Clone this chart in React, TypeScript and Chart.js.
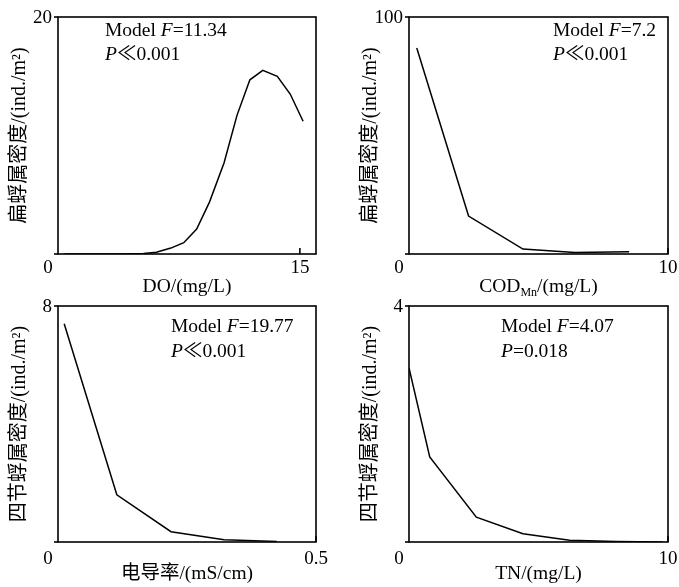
import React, { useEffect, useRef } from "react";
import { Chart, registerables } from "chart.js";

Chart.register(...registerables);

const SERIF = "'Liberation Serif', 'Times New Roman', 'Noto Sans CJK SC', serif";

// ---- Data ----
// Panel 1: 扁蜉属 vs DO
const doX = [0.4, 1.2, 2.0, 2.8, 3.7, 4.5, 5.3, 6.1, 7.0, 7.8, 8.6, 9.4, 10.3, 11.1, 11.9, 12.7, 13.6, 14.4, 15.2];
const doY = [0, 0, 0, 0, 0.01, 0.02, 0.05, 0.15, 0.5, 0.95, 2.1, 4.4, 7.7, 11.7, 14.7, 15.5, 15.0, 13.5, 11.2];
// Panel 2: 扁蜉属 vs COD_Mn
const codX = [0.3, 2.3, 4.4, 6.4, 8.5];
const codY = [86.9, 16.0, 2.1, 0.6, 0.9];
// Panel 3: 四节蜉属 vs 电导率
const ecX = [0.012, 0.114, 0.219, 0.322, 0.424];
const ecY = [7.4, 1.6, 0.35, 0.08, 0.02];
// Panel 4: 四节蜉属 vs TN
const tnX = [0, 0.8, 2.6, 4.4, 6.2, 8.0, 9.8];
const tnY = [2.95, 1.44, 0.42, 0.14, 0.03, 0.01, 0.0];

// axis ranges and tick labels
const xMaxes = [16, 10, 0.5, 10];
const yMaxes = [20, 100, 8, 4];
const xTickValues = [[15], [10], [0.5], [10]];
const yTickValues = [[20], [100], [8], [4]];

// texts
const fValues = ["11.34", "7.2", "19.77", "4.07"];
const pTexts = ["≪0.001", "≪0.001", "≪0.001", "=0.018"];
const yTitles = [
  "扁蜉属密度/(ind./m²)",
  "扁蜉属密度/(ind./m²)",
  "四节蜉属密度/(ind./m²)",
  "四节蜉属密度/(ind./m²)",
];
const xTitles = [
  [{ t: "DO/(mg/L)" }],
  [{ t: "COD" }, { t: "Mn", sub: true }, { t: "/(mg/L)" }],
  [{ t: "电导率/(mS/cm)" }],
  [{ t: "TN/(mg/L)" }],
];

// ---- Layout (pixels) ----
const layouts = [
  { left: 0, top: 0, w: 340, h: 310, pad: { left: 58, top: 17, right: 24, bottom: 56 }, tickDy: 14, titleDy: 33, annX: 47, annY1: 14, annY2: 38 },
  { left: 340, top: 0, w: 339, h: 310, pad: { left: 69, top: 17, right: 11, bottom: 56 }, tickDy: 14, titleDy: 33, annX: 144, annY1: 14, annY2: 38 },
  { left: 0, top: 293, w: 340, h: 294, pad: { left: 58, top: 13, right: 24, bottom: 45 }, tickDy: 17, titleDy: 32, annX: 113, annY1: 21, annY2: 46 },
  { left: 340, top: 293, w: 339, h: 294, pad: { left: 69, top: 13, right: 11, bottom: 45 }, tickDy: 17, titleDy: 32, annX: 92, annY1: 21, annY2: 46 },
];

const seriesX = [doX, codX, ecX, tnX];
const seriesY = [doY, codY, ecY, tnY];

function decoPlugin(i: number) {
  const L = layouts[i];
  return {
    id: "deco" + i,
    afterDraw(chart: any) {
      const ctx = chart.ctx as CanvasRenderingContext2D;
      const a = chart.chartArea;
      const xs = chart.scales.x;
      const ys = chart.scales.y;
      ctx.save();
      ctx.strokeStyle = "#000";
      ctx.lineWidth = 1.6;
      ctx.strokeRect(a.left, a.top, a.right - a.left, a.bottom - a.top);
      // y ticks (outward) at 0 and labelled values
      for (const v of [0, ...yTickValues[i]]) {
        const py = ys.getPixelForValue(v);
        ctx.beginPath();
        ctx.moveTo(a.left - 4, py);
        ctx.lineTo(a.left, py);
        ctx.stroke();
      }
      // x ticks (inward)
      for (const v of xTickValues[i]) {
        const px = xs.getPixelForValue(v);
        ctx.beginPath();
        ctx.moveTo(px, a.bottom);
        ctx.lineTo(px, a.bottom - 6);
        ctx.stroke();
      }
      ctx.fillStyle = "#000";
      ctx.font = `19px ${SERIF}`;
      ctx.textBaseline = "middle";
      ctx.textAlign = "right";
      for (const v of yTickValues[i]) {
        ctx.fillText(String(v), a.left - 6, ys.getPixelForValue(v) + 1);
      }
      ctx.textAlign = "center";
      ctx.fillText("0", a.left - 10, a.bottom + L.tickDy);
      for (const v of xTickValues[i]) {
        ctx.fillText(String(v), xs.getPixelForValue(v), a.bottom + L.tickDy);
      }
      // x title
      const parts = xTitles[i] as { t: string; sub?: boolean }[];
      const fontFor = (p: { sub?: boolean }) => (p.sub ? `12px ${SERIF}` : `19.5px ${SERIF}`);
      let total = 0;
      for (const p of parts) {
        ctx.font = fontFor(p);
        total += ctx.measureText(p.t).width;
      }
      let x = (a.left + a.right) / 2 - total / 2;
      ctx.textAlign = "left";
      for (const p of parts) {
        ctx.font = fontFor(p);
        ctx.fillText(p.t, x, a.bottom + L.titleDy + (p.sub ? 6 : 0));
        x += ctx.measureText(p.t).width;
      }
      // y title
      ctx.save();
      ctx.translate(a.left - 38, (a.top + a.bottom) / 2);
      ctx.rotate(-Math.PI / 2);
      ctx.textAlign = "center";
      ctx.font = `20px ${SERIF}`;
      ctx.fillText(yTitles[i], 0, 0);
      ctx.restore();
      // annotation
      const segs1 = [
        { t: "Model ", it: false },
        { t: "F", it: true },
        { t: "=" + fValues[i], it: false },
      ];
      const segs2 = [
        { t: "P", it: true },
        { t: pTexts[i], it: false },
      ];
      const drawSegs = (segs: { t: string; it: boolean }[], y: number) => {
        let xx = a.left + L.annX;
        ctx.textAlign = "left";
        for (const s of segs) {
          ctx.font = `${s.it ? "italic " : ""}19.5px ${SERIF}`;
          ctx.fillText(s.t, xx, y);
          xx += ctx.measureText(s.t).width;
        }
      };
      drawSegs(segs1, a.top + L.annY1);
      drawSegs(segs2, a.top + L.annY2);
      ctx.restore();
    },
  };
}

function Panel({ i }: { i: number }) {
  const ref = useRef<HTMLCanvasElement>(null);
  const L = layouts[i];
  useEffect(() => {
    if (!ref.current) return;
    const data = seriesX[i].map((x, k) => ({ x, y: seriesY[i][k] }));
    const chart = new Chart(ref.current, {
      type: "line",
      data: {
        datasets: [
          {
            data,
            borderColor: "#000",
            borderWidth: 1.5,
            pointRadius: 0,
            tension: 0,
            fill: false,
          },
        ],
      },
      options: {
        responsive: false,
        animation: false,
        devicePixelRatio: 1,
        layout: { padding: L.pad },
        plugins: { legend: { display: false }, tooltip: { enabled: false }, title: { display: false } },
        scales: {
          x: { type: "linear", min: 0, max: xMaxes[i], display: false },
          y: { type: "linear", min: 0, max: yMaxes[i], display: false },
        },
      },
      plugins: [decoPlugin(i)],
    } as any);
    return () => chart.destroy();
  }, []);
  return (
    <canvas
      ref={ref}
      width={L.w}
      height={L.h}
      style={{ position: "absolute", left: L.left, top: L.top, width: L.w, height: L.h }}
    />
  );
}

export default function App() {
  return (
    <div style={{ position: "absolute", left: 0, top: 0, width: 679, height: 587, background: "#fff" }}>
      {[0, 1, 2, 3].map((i) => (
        <Panel key={i} i={i} />
      ))}
    </div>
  );
}
